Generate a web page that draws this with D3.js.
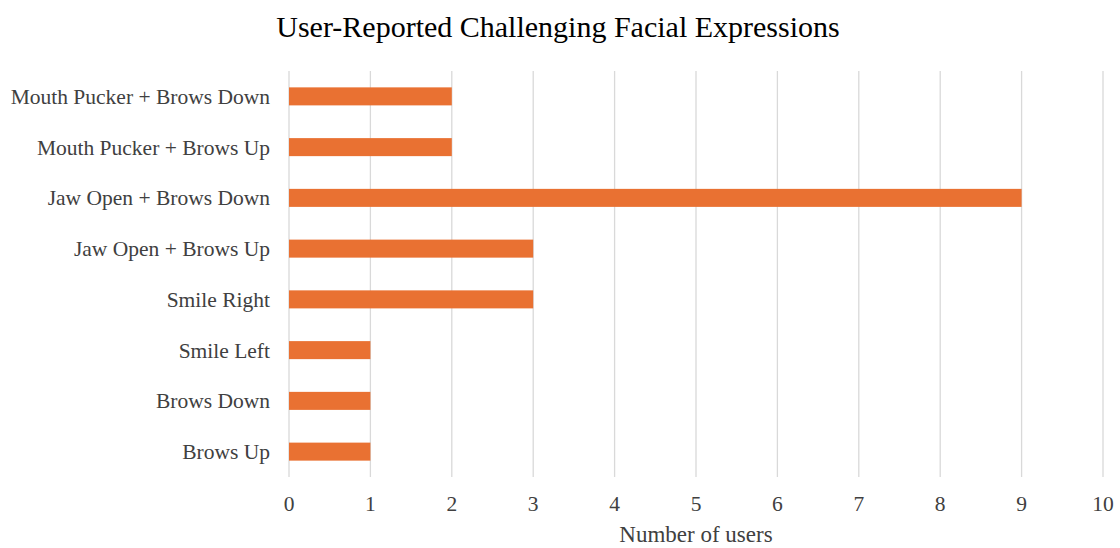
<!DOCTYPE html>
<html>
<head>
<meta charset="utf-8">
<title>User-Reported Challenging Facial Expressions</title>
<script src="https://cdn.jsdelivr.net/npm/d3@7"></script>
<style>
    body { margin: 0; background: #fff; }
    svg text { font-family: "Liberation Serif", "Times New Roman", serif; }
</style>
</head>
<body>
<script>
    var categories = ["Mouth Pucker + Brows Down", "Mouth Pucker + Brows Up", "Jaw Open + Brows Down",
        "Jaw Open + Brows Up", "Smile Right", "Smile Left", "Brows Down", "Brows Up"];
    var users = [2, 2, 9, 3, 3, 1, 1, 1];
    var xTicks = [0, 1, 2, 3, 4, 5, 6, 7, 8, 9, 10];

    var width = 1120, height = 548;
    var margin = { left: 289, right: 17, top: 71, bottom: 71 };

    var svg = d3.select("body").append("svg")
        .attr("width", width)
        .attr("height", height);

    var x = d3.scaleLinear().domain([0, 10]).range([margin.left, width - margin.right]);
    var y = d3.scaleBand().domain(categories)
        .range([margin.top, height - margin.bottom])
        .paddingInner(0.645).paddingOuter(0.3225);

    // gridlines
    svg.append("g").selectAll("line")
        .data(xTicks)
        .enter().append("line")
        .attr("x1", function (d) { return x(d); })
        .attr("x2", function (d) { return x(d); })
        .attr("y1", margin.top)
        .attr("y2", height - margin.bottom)
        .attr("stroke", "#d9d9d9")
        .attr("stroke-width", 1.3);

    // bars
    svg.append("g").selectAll("rect")
        .data(categories)
        .enter().append("rect")
        .attr("x", x(0))
        .attr("y", function (d) { return y(d); })
        .attr("width", function (d, i) { return x(users[i]) - x(0); })
        .attr("height", y.bandwidth())
        .attr("fill", "#e97132");

    // category labels
    svg.append("g").selectAll("text")
        .data(categories)
        .enter().append("text")
        .attr("x", margin.left - 19)
        .attr("y", function (d) { return y(d) + y.bandwidth() / 2; })
        .attr("dy", "0.35em")
        .attr("text-anchor", "end")
        .attr("font-size", 21.5)
        .attr("fill", "#404040")
        .text(function (d) { return d; });

    // x tick labels
    svg.append("g").selectAll("text")
        .data(xTicks)
        .enter().append("text")
        .attr("x", function (d) { return x(d); })
        .attr("y", 511)
        .attr("text-anchor", "middle")
        .attr("font-size", 21.5)
        .attr("fill", "#404040")
        .text(function (d) { return d; });

    svg.append("text")
        .attr("x", x(5))
        .attr("y", 542)
        .attr("text-anchor", "middle")
        .attr("font-size", 23)
        .attr("fill", "#404040")
        .text("Number of users");

    svg.append("text")
        .attr("x", 558)
        .attr("y", 37)
        .attr("text-anchor", "middle")
        .attr("font-size", 30)
        .attr("fill", "#000")
        .text("User-Reported Challenging Facial Expressions");
</script>
</body>
</html>
